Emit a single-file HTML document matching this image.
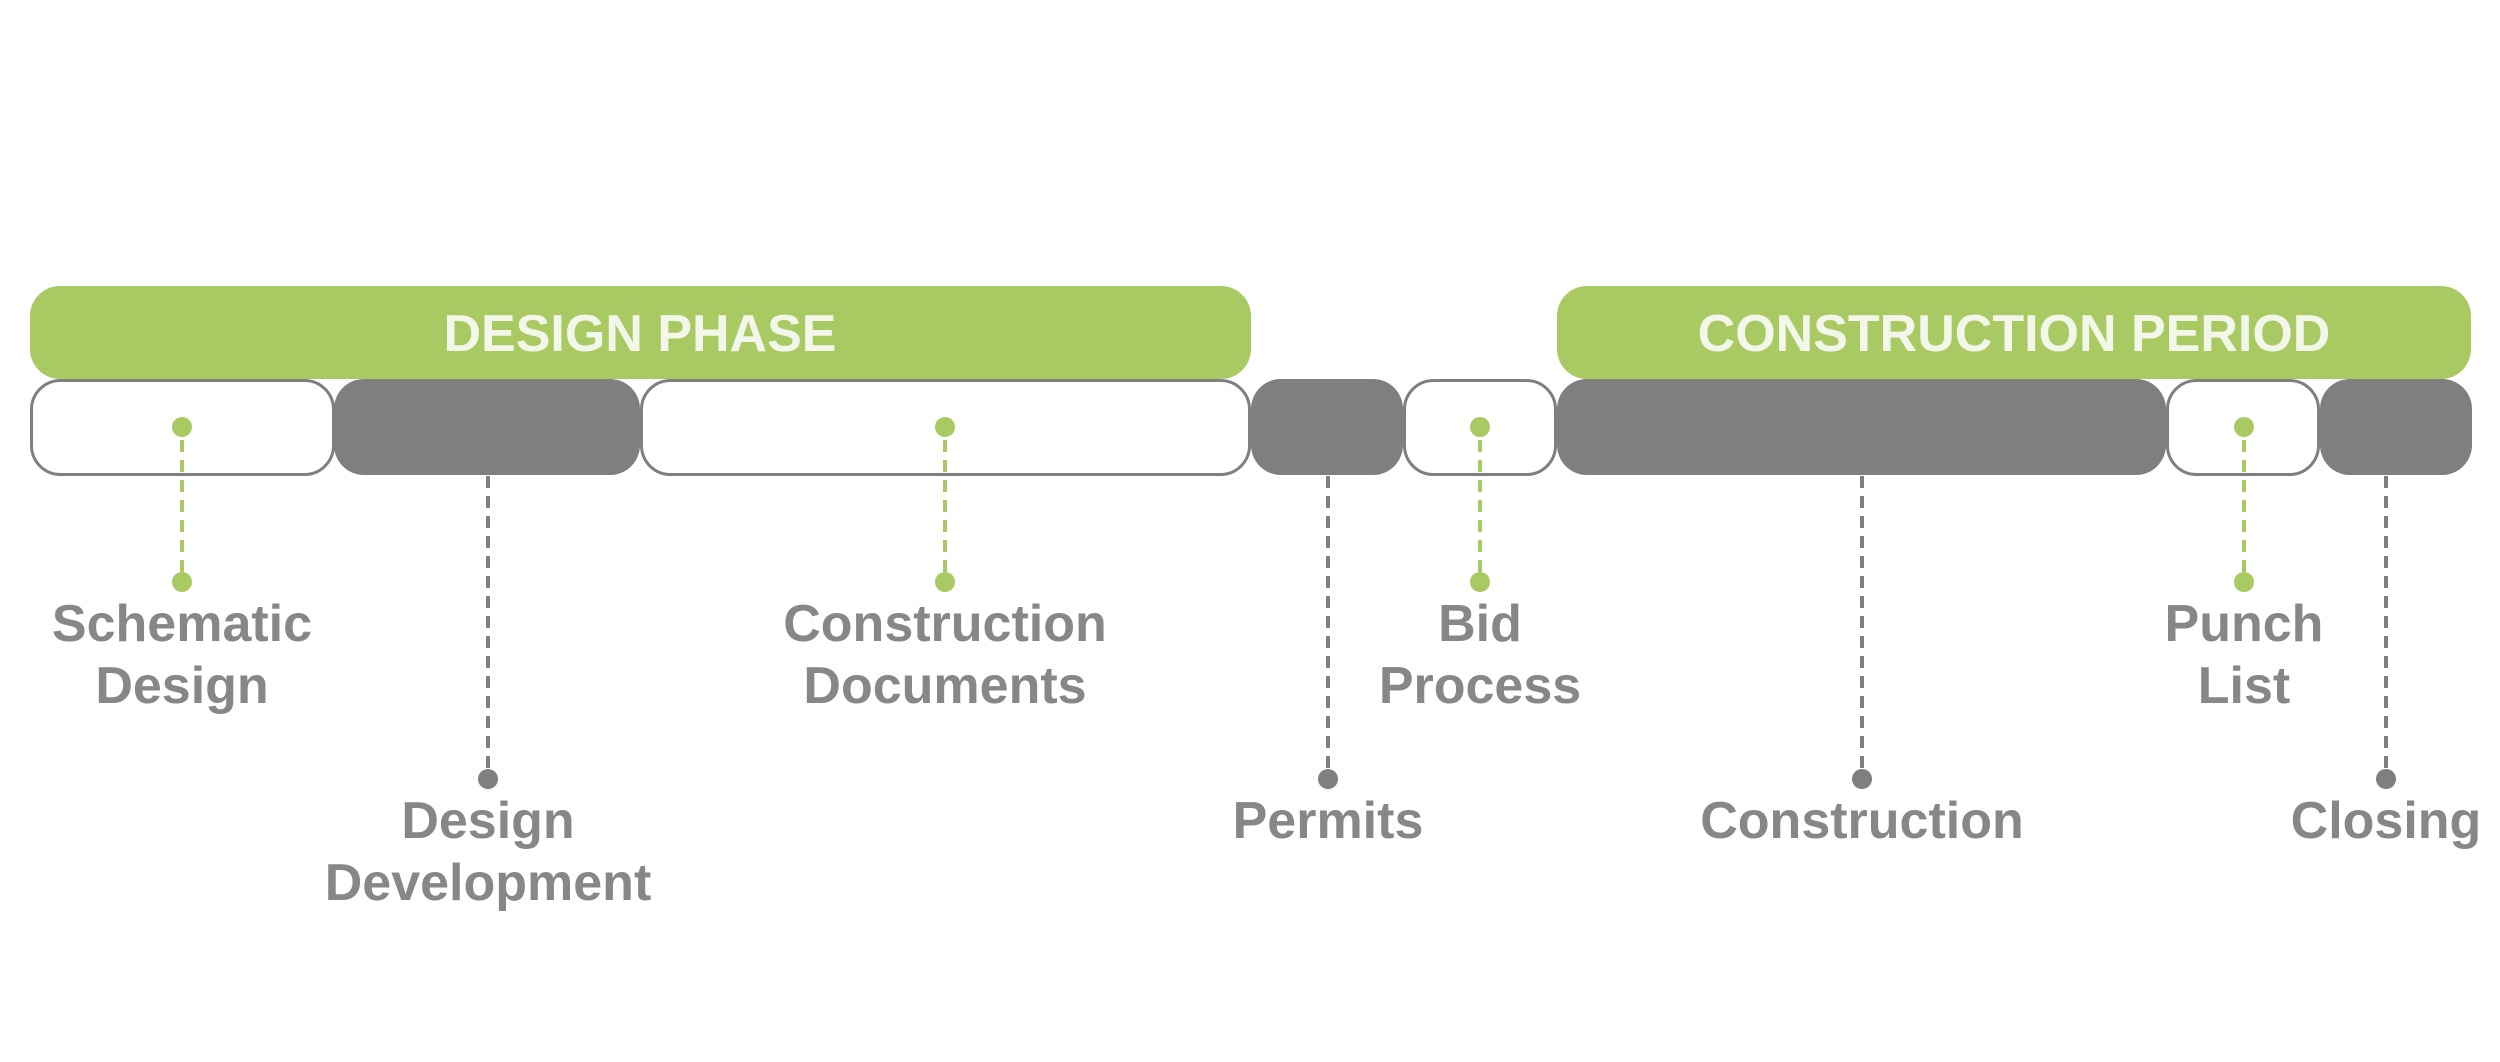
<!DOCTYPE html>
<html><head><meta charset="utf-8"><style>html,body{margin:0;padding:0;background:#fff}svg{display:block}</style></head>
<body>
<svg width="2500" height="1062" viewBox="0 0 2500 1062" xmlns="http://www.w3.org/2000/svg">
<g fill="#a9ca63">
<rect x="30" y="286" width="1221" height="93" rx="30"/>
<rect x="1557" y="286" width="914" height="93" rx="30"/>
</g>
<g font-family="Liberation Sans, sans-serif" font-weight="bold" font-size="52" fill="#f3f7ea" text-anchor="middle">
<text x="640" y="351">DESIGN PHASE</text>
<text x="2014" y="351">CONSTRUCTION PERIOD</text>
</g>
<g fill="#7e7f7e">
<rect x="334" y="379" width="306" height="96" rx="30"/>
<rect x="1251" y="379" width="152" height="96" rx="30"/>
<rect x="1557" y="379" width="609" height="96" rx="30"/>
<rect x="2320" y="379" width="152" height="96" rx="30"/>
</g>
<g fill="#fff" stroke="#7e7f7e" stroke-width="3">
<rect x="31.5" y="380.5" width="302" height="94" rx="29"/>
<rect x="641.5" y="380.5" width="608" height="94" rx="29"/>
<rect x="1404.5" y="380.5" width="151" height="94" rx="29"/>
<rect x="2167.5" y="380.5" width="151" height="94" rx="29"/>
</g>
<g stroke="#a9ca63" stroke-width="4" stroke-dasharray="12 8">
<line x1="182" y1="440" x2="182" y2="575"/>
<line x1="945" y1="440" x2="945" y2="575"/>
<line x1="1480" y1="440" x2="1480" y2="575"/>
<line x1="2244" y1="440" x2="2244" y2="575"/>
</g>
<g fill="#a9ca63">
<circle cx="182" cy="427" r="10"/><circle cx="945" cy="427" r="10"/><circle cx="1480" cy="427" r="10"/><circle cx="2244" cy="427" r="10"/>
<circle cx="182" cy="582" r="10"/><circle cx="945" cy="582" r="10"/><circle cx="1480" cy="582" r="10"/><circle cx="2244" cy="582" r="10"/>
</g>
<g stroke="#7e7f7e" stroke-width="4" stroke-dasharray="12 8">
<line x1="488" y1="476" x2="488" y2="772"/>
<line x1="1328" y1="476" x2="1328" y2="772"/>
<line x1="1862" y1="476" x2="1862" y2="772"/>
<line x1="2386" y1="476" x2="2386" y2="772"/>
</g>
<g fill="#7e7f7e">
<circle cx="488" cy="779" r="10"/><circle cx="1328" cy="779" r="10"/><circle cx="1862" cy="779" r="10"/><circle cx="2386" cy="779" r="10"/>
</g>
<g font-family="Liberation Sans, sans-serif" font-weight="bold" font-size="52" fill="#868786" text-anchor="middle">
<text x="182" y="641">Schematic</text><text x="182" y="703">Design</text>
<text x="945" y="641">Construction</text><text x="945" y="703">Documents</text>
<text x="1480" y="641">Bid</text><text x="1480" y="703">Process</text>
<text x="2244" y="641">Punch</text><text x="2244" y="703">List</text>
<text x="488" y="838">Design</text><text x="488" y="900">Development</text>
<text x="1328" y="838">Permits</text>
<text x="1862" y="838">Construction</text>
<text x="2386" y="838">Closing</text>
</g>
</svg>
</body></html>
